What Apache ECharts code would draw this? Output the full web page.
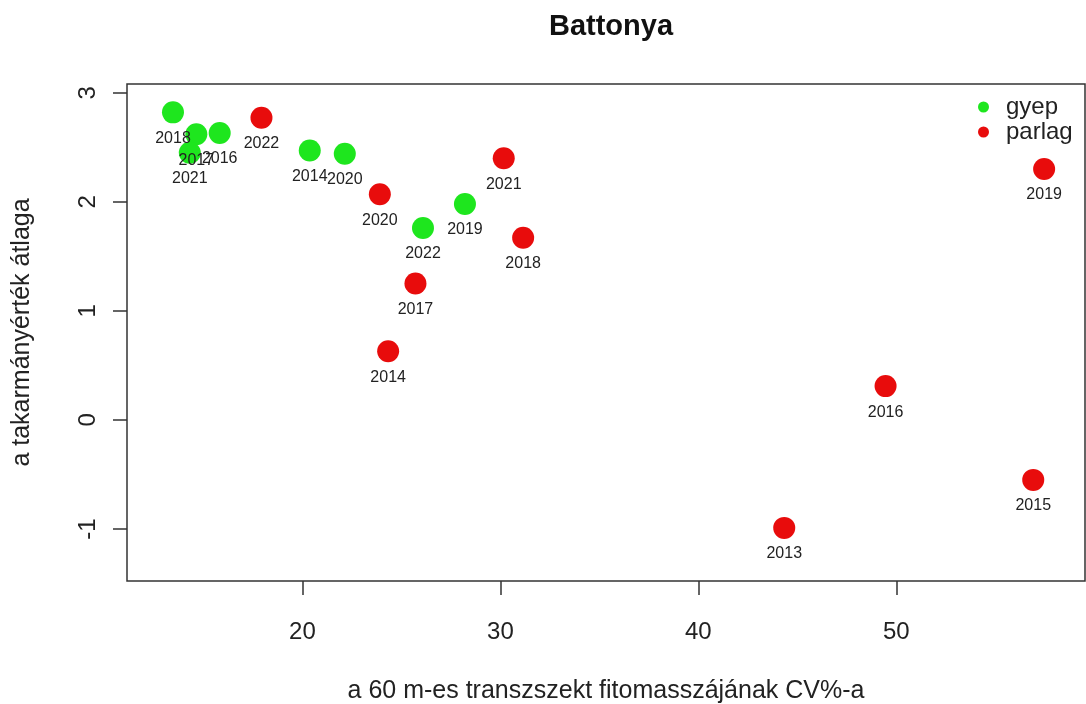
<!DOCTYPE html>
<html>
<head>
<meta charset="utf-8">
<script src="https://cdn.jsdelivr.net/npm/echarts@6/dist/echarts.min.js"></script>
<style>
  html, body { margin: 0; padding: 0; background: #ffffff; }
  #chart { width: 1086px; height: 704px; }
</style>
</head>
<body>
<div id="chart"></div>
<script>
// Grassland (gyep) plots: year, CV% of transect biomass, mean forage value
const gyepYears = ['2018', '2017', '2021', '2016', '2014', '2020', '2022', '2019'];
const gyepCV    = [13.46, 14.64, 14.31, 15.82, 20.37, 22.14, 26.09, 28.21];
const gyepMean  = [2.82, 2.62, 2.45, 2.63, 2.47, 2.44, 1.76, 1.98];

// Fallow (parlag) plots
const parlagYears = ['2022', '2020', '2017', '2014', '2021', '2018', '2019', '2016', '2015', '2013'];
const parlagCV    = [17.93, 23.91, 25.71, 24.33, 30.17, 31.15, 57.47, 49.46, 56.92, 44.34];
const parlagMean  = [2.77, 2.07, 1.25, 0.63, 2.40, 1.67, 2.30, 0.31, -0.55, -0.99];

const xTicks = [20, 30, 40, 50];
const yTicks = [-1, 0, 1, 2, 3];

const FONT = '"Liberation Sans", Arial, sans-serif';
const GREEN = '#1ee61e';
const RED = '#e80c0c';

function points(xs, ys, names) {
  return xs.map((x, i) => ({ value: [x, ys[i]], name: names[i] }));
}

const pointLabel = {
  show: true,
  position: 'bottom',
  distance: 7,
  formatter: p => p.name,
  color: '#222222',
  fontSize: 16,
  fontFamily: FONT
};

const chart = echarts.init(document.getElementById('chart'), null, { renderer: 'canvas' });

chart.setOption({
  animation: false,
  backgroundColor: '#ffffff',
  title: {
    text: 'Battonya',
    left: 606,
    textAlign: 'center',
    top: 7,
    textStyle: { fontSize: 29, fontWeight: 'bold', color: '#111111', fontFamily: FONT }
  },
  legend: {
    orient: 'vertical',
    left: 978,
    top: 95,
    padding: 0,
    itemWidth: 11,
    itemHeight: 11,
    itemGap: 1,
    icon: 'circle',
    textStyle: { fontSize: 24, lineHeight: 24, color: '#222222', fontFamily: FONT, padding: [0, 0, 0, 12] },
    data: ['gyep', 'parlag']
  },
  grid: {
    left: 127, right: 1, top: 84, bottom: 123,
    outerBoundsMode: 'none',
    containLabel: false,
    show: true, borderColor: '#333333', borderWidth: 1.5, backgroundColor: 'transparent'
  },
  xAxis: {
    type: 'value',
    min: 11.137,
    max: 59.535,
    name: 'a 60 m-es transzszekt fitomasszájának CV%-a',
    nameLocation: 'middle',
    nameGap: 98,
    nameTextStyle: { fontSize: 25, color: '#222222', fontFamily: FONT },
    axisLine: { show: false, onZero: false },
    splitLine: { show: false },
    axisTick: { show: true, inside: false, length: 14, customValues: xTicks, lineStyle: { color: '#333333', width: 1.5 } },
    axisLabel: { customValues: xTicks, margin: 39, fontSize: 24, color: '#222222', fontFamily: FONT }
  },
  yAxis: {
    type: 'value',
    min: -1.477,
    max: 3.08,
    name: 'a takarmányérték átlaga',
    nameLocation: 'middle',
    nameGap: 92,
    nameRotate: 90,
    nameTextStyle: { fontSize: 25, color: '#222222', fontFamily: FONT },
    axisLine: { show: false, onZero: false },
    splitLine: { show: false },
    axisTick: { show: true, inside: false, length: 14, customValues: yTicks, lineStyle: { color: '#333333', width: 1.5 } },
    axisLabel: { customValues: yTicks, rotate: 90, margin: 27, fontSize: 24, color: '#222222', fontFamily: FONT }
  },
  series: [
    {
      name: 'gyep',
      type: 'scatter',
      symbol: 'circle',
      symbolSize: 22,
      itemStyle: { color: GREEN, opacity: 1 },
      label: pointLabel,
      data: points(gyepCV, gyepMean, gyepYears)
    },
    {
      name: 'parlag',
      type: 'scatter',
      symbol: 'circle',
      symbolSize: 22,
      itemStyle: { color: RED, opacity: 1 },
      label: pointLabel,
      data: points(parlagCV, parlagMean, parlagYears)
    }
  ]
});
</script>
</body>
</html>
